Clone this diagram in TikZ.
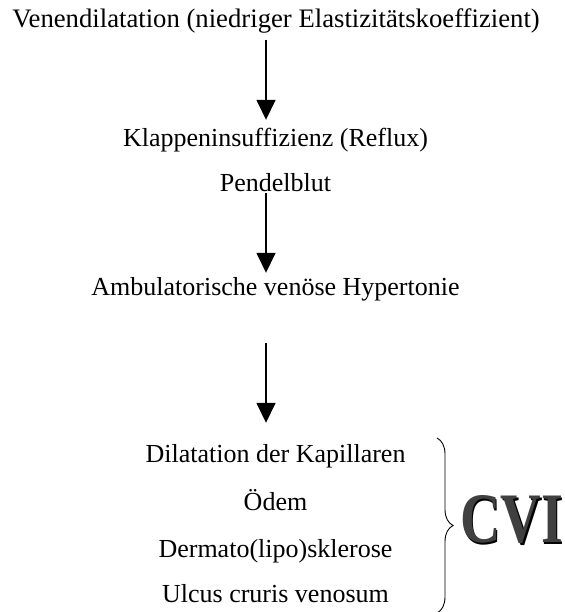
\documentclass[tikz,border=0pt]{standalone}
\usepackage{fontspec}
\setmainfont{Liberation Serif}
\usepackage{xcolor}
\usepackage{tikz}
\usetikzlibrary{arrows.meta,decorations.pathreplacing}

\begin{document}
\begin{tikzpicture}[x=1pt, y=-1pt, >={Triangle[width=19pt,length=20pt]},
  stage/.style={inner sep=0pt, anchor=base, text height=18pt, text depth=6pt, font=\fontsize{26}{30}\selectfont},
  flow/.style={->, line width=1.6pt},
  cvitext/.style={inner sep=0pt, anchor=base west, font=\fontsize{71}{71}\selectfont\bfseries}]
  \useasboundingbox (0,0) rectangle (564,612);
  \node[stage, font=\fontsize{26.7}{30}\selectfont](venen) at (276,28){\addfontfeatures{Ligatures=NoCommon}Venendilatation (niedriger Elastizitätskoeffizient)};
  \node[stage](klappen) at (275.5,147){Klappeninsuffizienz (Reflux)};
  \node[stage](pendel) at (275.5,192){Pendelblut};
  \node[stage](hyper) at (275.5,295){Ambulatorische venöse Hypertonie};
  \node[stage](kapill) at (275.5,462){Dilatation der Kapillaren};
  \node[stage](oedem) at (275.5,510){Ödem};
  \node[stage](dermato) at (275.5,557){Dermato(lipo)sklerose};
  \node[stage](ulcus) at (275.5,602){Ulcus cruris venosum};
  \foreach \a/\b/\s/\t in {venen/klappen/6/9,pendel/hyper/-5/4,hyper/kapill/42/21}{
    \draw[flow, shorten <=\s pt, shorten >=\t pt]([xshift=-9.5pt]\a.south -| klappen.center)--([xshift=-9.5pt]\b.north);}
  % brace and label
  \coordinate (btop) at (437,438);
  \coordinate (bbot) at (437,613);
  \draw[line width=0.9pt, decorate, decoration={brace, amplitude=16pt}](btop)--(bbot);
  \node[cvitext](cvi) at (460,542){\scalebox{0.79}[1]{\rlap{\kern2pt\raisebox{-2pt}{\color{black}CVI}}\color{gray!50!black}CVI}};
\end{tikzpicture}
\end{document}
